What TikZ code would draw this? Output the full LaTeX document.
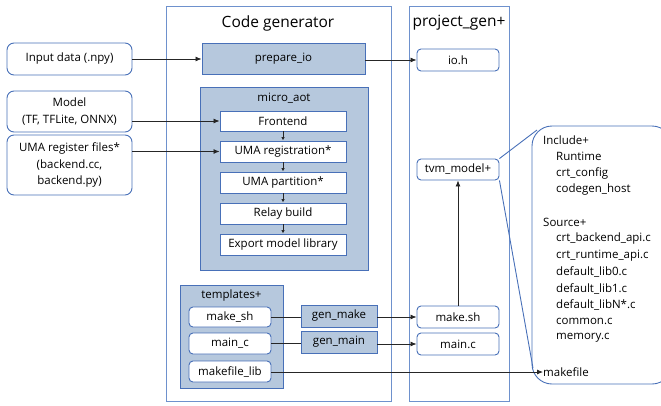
\documentclass[tikz,border=0pt]{standalone}
\usepackage{fontspec}
\setmainfont{Open Sans}
\usetikzlibrary{arrows.meta}
\definecolor{bd}{RGB}{72,112,184}
\definecolor{bdl}{RGB}{110,145,205}
\definecolor{fl}{RGB}{182,200,221}
\tikzset{
  box/.style={draw=bd, line width=0.9pt, inner sep=0pt, font=\fontsize{11.5}{13.5}\selectfont, align=center},
  ext/.style={box, fill=white, rounded corners=7pt, minimum width=125pt, font=\fontsize{11.5}{16.5}\selectfont},
  blu/.style={box, fill=fl},
  wht/.style={box, fill=white},
  rnd/.style={box, fill=white, rounded corners=4pt, minimum width=82pt},
  frame/.style={draw=bdl, line width=1pt},
  arr/.style={-{Latex[length=6pt,width=5pt]}, line width=0.8pt, black!85},
  sarr/.style={-{Latex[length=3.5pt,width=3.5pt]}, line width=0.7pt, black!85},
  ln/.style={line width=0.8pt, black!85},
  lst/.style={anchor=west, inner sep=0pt, font=\fontsize{11.5}{13.5}\selectfont},
}
\begin{document}
\begin{tikzpicture}[x=1pt,y=-1pt]
\useasboundingbox (0,0) rectangle (661,405);
% outer frames
\draw[frame] (166,6) rectangle (391,401);
\draw[frame] (409,6) rectangle (509,401);
\node[inner sep=0pt, font=\fontsize{15.5}{18}\selectfont] (cgt) at (278,23) {Code generator};
\node[inner sep=0pt, font=\fontsize{15.5}{18}\selectfont] (pgt) at (459,23) {project\_gen+};
% external inputs
\node[ext, minimum height=32pt] (inp) at (69.5,59) {Input data (.npy)};
\node[ext, minimum height=41pt] (model) at (69.5,111.5) {Model\\(TF, TFLite, ONNX)};
\node[ext, minimum height=60pt] (uma) at (69.5,165) {UMA register files*\\(backend.cc,\\backend.py)};
% code generator
\node[blu, minimum width=163pt, minimum height=31pt] (prep) at (283.5,58.5) {prepare\_io};
\node[blu, minimum width=168pt, minimum height=183pt] (aot) at (284,178.5) {};
\node[inner sep=0pt, font=\fontsize{11.5}{13.5}\selectfont] (aotl) at (284,98) {micro\_aot};
\node[wht, minimum width=126pt, minimum height=20pt] (fe) at (283,121) {Frontend};
\node[wht, minimum width=126pt, minimum height=21pt] (ureg) at (283,151.5) {UMA registration*};
\node[wht, minimum width=126pt, minimum height=21pt] (upart) at (283,182.5) {UMA partition*};
\node[wht, minimum width=126pt, minimum height=21pt] (relay) at (283,213.5) {Relay build};
\node[wht, minimum width=126pt, minimum height=21pt] (exp) at (283,244.5) {Export model library};
\draw[sarr] (fe) -- (ureg);
\draw[sarr] (ureg) -- (upart);
\draw[sarr] (upart) -- (relay);
\draw[sarr] (relay) -- (exp);
% templates
\node[blu, minimum width=103pt, minimum height=103pt] (tmpl) at (231.5,336.5) {};
\node[inner sep=0pt, font=\fontsize{11.5}{13.5}\selectfont] (tmpll) at (231.5,296) {templates+};
\node[wht, rounded corners=4pt, minimum width=82pt, minimum height=20pt] (mksh) at (230,317) {make\_sh};
\node[wht, rounded corners=4pt, minimum width=82pt, minimum height=21pt] (mnc) at (230,343.5) {main\_c};
\node[wht, rounded corners=4pt, minimum width=82pt, minimum height=21pt] (mkl) at (230,371.5) {makefile\_lib};
\node[blu, minimum width=76pt, minimum height=22pt] (gmk) at (339,316) {gen\_make};
\node[blu, minimum width=76pt, minimum height=22pt] (gmn) at (339,342) {gen\_main};
% project_gen
\node[rnd, minimum height=22pt] (ioh) at (458,60) {io.h};
\node[rnd, minimum height=21pt] (tvm) at (458,169.5) {tvm\_model+};
\node[rnd, minimum height=22pt] (msh) at (458,317) {make.sh};
\node[rnd, minimum height=22pt] (mc) at (458,344) {main.c};
% bubble
\draw[draw=bd, line width=0.9pt, rounded corners=20pt] (532,126) rectangle (672,384);
\coordinate (bt) at (537,130);
\coordinate (bb) at (533,368);
\draw[draw=bd, line width=0.9pt] (tvm.north east) -- (bt);
\draw[draw=bd, line width=0.9pt] (tvm.south east) -- (bb);
\node[lst] (l1) at (543,140) {Include+};
\node[lst] (l2) at (556,156.5) {Runtime};
\node[lst] (l3) at (556,173) {crt\_config};
\node[lst] (l4) at (556,189.5) {codegen\_host};
\node[lst] (l5) at (543,222.5) {Source+};
\node[lst] (l6) at (556,239) {crt\_backend\_api.c};
\node[lst] (l7) at (556,255.5) {crt\_runtime\_api.c};
\node[lst] (l8) at (556,272) {default\_lib0.c};
\node[lst] (l9) at (556,288.5) {default\_lib1.c};
\node[lst] (l10) at (556,305) {default\_libN*.c};
\node[lst] (l11) at (556,321.5) {common.c};
\node[lst] (l12) at (556,338) {memory.c};
\node[lst] (mkf) at (543,372) {makefile};
% connectors
\draw[arr] (inp.east) -- (inp.east -| prep.west);
\draw[arr] (model.east |- fe.west) -- (fe.west);
\draw[arr] (uma.east |- ureg.west) -- (ureg.west);
\draw[arr] (prep.east |- ioh.west) -- (ioh.west);
\draw[ln] (mksh.east) -- (mksh.east -| gmk.west);
\draw[arr] (gmk.east |- msh.west) -- (msh.west);
\draw[ln] (mnc.east) -- (mnc.east -| gmn.west);
\draw[arr] (gmn.east |- mc.west) -- (mc.west);
\draw[arr] (mkl.east |- mkf.west) -- (mkf.west);
\draw[arr] (msh.north) -- (tvm.south);
\end{tikzpicture}
\end{document}
